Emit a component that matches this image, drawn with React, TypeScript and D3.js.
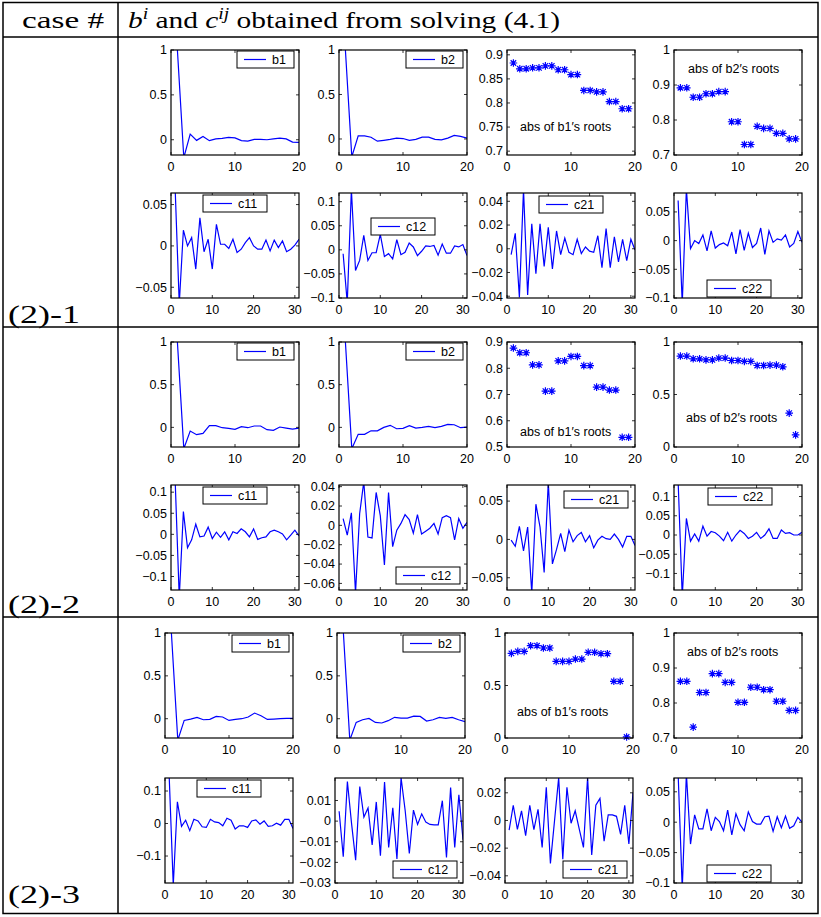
import React from 'react';
import * as d3 from 'd3';

// ---- values (index 1..n) ----
const xTicksB = [0, 10, 20];
const xTicksC = [0, 10, 20, 30];

// case (2)-1
const r1B1 = [1, -0.2, 0.063, -0.007, 0.037, -0.01, 0.01, 0.015, 0.026, 0.02, -0.01, -0.015, 0.004, 0.004, 0, 0.01, 0.018, 0.01, -0.026, -0.03];
const r1B2 = [1, -0.2, 0.035, 0.035, 0.02, -0.025, -0.015, -0.005, 0.01, 0.005, -0.015, -0.005, 0.02, 0.02, -0.005, -0.01, 0.01, 0.04, 0.03, 0.01];
const r1B1Roots = [0.883, 0.871, 0.871, 0.873, 0.873, 0.877, 0.877, 0.869, 0.869, 0.859, 0.859, 0.826, 0.826, 0.823, 0.823, 0.803, 0.803, 0.788, 0.788];
const r1B2Roots = [0.892, 0.892, 0.865, 0.865, 0.875, 0.875, 0.881, 0.881, 0.795, 0.795, 0.73, 0.73, 0.782, 0.776, 0.776, 0.762, 0.762, 0.746, 0.746];
const r1C11 = [0.07, -0.07, 0.019, 0, 0.01, -0.028, 0.034, -0.007, 0.008, -0.028, 0.026, 0.002, 0.002, -0.003, 0.008, -0.008, -0.004, 0.004, 0.01, 0, -0.004, -0.004, 0.007, -0.006, 0.007, -0.002, 0.006, -0.007, -0.004, 0.001, 0.008];
const r1C12 = [-0.008, -0.11, 0.125, -0.043, -0.022, 0.03, -0.022, -0.006, -0.006, 0.032, -0.014, -0.008, -0.019, 0.021, -0.01, -0.005, 0.014, 0.006, -0.012, -0.003, 0.008, 0.007, 0.009, -0.011, 0.012, -0.007, -0.007, 0.008, 0.006, 0.011, -0.012];
const r1C21 = [-0.005, 0.013, -0.041, 0.05, -0.039, 0.021, -0.021, 0.021, -0.015, 0.018, -0.017, 0.015, -0.005, 0.009, -0.003, -0.005, 0.008, -0.004, 0.0015, -0.002, -0.003, 0.011, -0.016, 0.017, -0.016, 0.01, -0.011, 0.008, -0.01, 0.008, -0.001];
const r1C22 = [0.07, -0.11, 0.09, -0.014, 0, -0.005, 0.01, -0.018, 0.017, -0.013, -0.007, -0.004, -0.009, 0.015, -0.023, 0.019, -0.017, 0.013, -0.012, -0.005, 0.022, -0.024, 0.017, -0.003, 0.003, 0.001, 0.01, -0.011, -0.005, 0.016, -0.003];

// case (2)-2
const r2B1 = [1, -0.25, -0.043, -0.086, -0.07, 0.02, 0.02, -0.004, -0.012, -0.024, 0.008, -0.004, 0.016, 0.016, -0.027, -0.035, 0.004, -0.008, -0.02, -0.008];
const r2B2 = [1, -0.25, -0.082, -0.082, -0.04, -0.04, 0, 0.024, -0.016, -0.012, 0.02, -0.008, 0, 0.012, -0.004, 0.012, 0.035, 0.031, -0.004, 0.004];
const r2B1Roots = [0.877, 0.859, 0.859, 0.813, 0.813, 0.713, 0.713, 0.828, 0.828, 0.845, 0.845, 0.81, 0.81, 0.728, 0.728, 0.717, 0.717, 0.537, 0.537];
const r2B2Roots = [0.866, 0.866, 0.84, 0.84, 0.83, 0.83, 0.847, 0.847, 0.824, 0.824, 0.815, 0.815, 0.776, 0.776, 0.78, 0.78, 0.764, 0.323, 0.115];
const r2C11 = [0.13, -0.15, 0.054, -0.032, -0.013, 0.024, -0.006, -0.004, 0.017, -0.01, 0.005, -0.007, 0.006, -0.013, 0.006, 0.002, 0.013, 0.006, -0.006, 0.013, -0.012, -0.008, -0.006, 0.006, 0.01, 0.006, 0.001, -0.013, -0.002, 0.01, -0.004];
const r2C12 = [0.007, -0.01, 0.013, -0.07, 0.012, 0.045, -0.012, -0.013, 0.034, 0.01, -0.041, 0.034, -0.022, -0.005, 0.002, 0.011, 0.006, -0.008, 0.011, -0.009, -0.006, -0.003, 0.002, -0.009, 0.008, 0.01, 0.008, -0.015, 0.007, -0.003, 0.003];
const r2C21 = [-0.001, -0.009, 0.017, -0.015, 0.016, -0.07, 0.046, 0.016, -0.043, 0.075, -0.032, -0.013, 0.008, -0.016, 0.012, -0.003, 0.005, 0.009, -0.003, 0.005, -0.011, -0.001, 0.004, 0.001, 0, 0.007, 0, -0.01, 0.004, 0.004, -0.008];
const r2C22 = [0.14, -0.16, 0.043, -0.016, 0.003, -0.016, 0.023, -0.003, 0.009, 0.006, -0.003, -0.015, 0.007, -0.016, 0, 0.012, 0.004, -0.009, -0.003, 0.007, -0.009, 0, 0.016, -0.009, -0.009, 0.013, 0.004, 0.006, 0, 0, 0.007];

// case (2)-3
const r3B1 = [1, -0.25, -0.02, -0.004, 0.016, -0.012, -0.008, 0.027, 0.02, -0.02, -0.008, 0, 0.02, 0.066, 0.035, -0.008, -0.004, 0, 0.004, 0.004];
const r3B2 = [1, -0.25, -0.043, -0.012, 0.004, -0.043, -0.05, -0.023, 0.016, 0.008, 0.008, 0.031, 0.027, -0.027, -0.012, 0.016, 0.004, 0.016, -0.012, -0.035];
const r3B1Roots = [0.806, 0.825, 0.825, 0.879, 0.879, 0.857, 0.857, 0.73, 0.73, 0.73, 0.752, 0.752, 0.816, 0.816, 0.803, 0.803, 0.54, 0.54, 0.01];
const r3B2Roots = [0.862, 0.862, 0.731, 0.83, 0.83, 0.884, 0.884, 0.859, 0.859, 0.802, 0.802, 0.845, 0.845, 0.838, 0.838, 0.805, 0.805, 0.779, 0.779];
const r3C11 = [0.15, -0.19, 0.067, -0.009, 0.01, -0.022, 0.013, 0.008, -0.01, -0.012, 0.013, 0.005, 0.003, -0.007, 0.016, 0.01, -0.017, -0.007, -0.007, -0.012, 0.008, 0.011, -0.002, 0.008, -0.009, -0.007, 0.001, -0.005, 0.013, 0.013, -0.015];
const r3C12 = [0.0048, -0.0173, 0.0192, -0.001, -0.019, 0.0168, 0.002, 0.0064, -0.0115, 0.0093, -0.0168, 0.0189, -0.0128, 0.0064, -0.0184, 0.021, 0.005, -0.0157, 0.0053, -0.0016, 0.0035, -0.0005, -0.0016, -0.0018, -0.0018, 0.0099, -0.0176, 0.0163, -0.0128, 0.0128, -0.009];
const r3C21 = [-0.007, 0.011, -0.0065, 0.007, -0.011, 0.011, -0.0067, 0.008, -0.0195, 0.024, -0.031, 0, 0.031, -0.028, 0.024, -0.002, 0.007, -0.0065, -0.0195, 0.031, -0.025, 0.011, 0.016, -0.015, 0.004, 0.004, 0.003, -0.01, 0.011, -0.017, 0.02];
const r3C22 = [0.08, -0.11, 0.08, -0.036, 0.012, -0.011, -0.011, 0.022, -0.014, 0.008, 0.001, -0.014, 0.02, -0.021, 0.014, -0.004, -0.014, 0.017, 0.001, -0.003, -0.003, 0.009, 0.01, -0.015, 0.009, -0.009, 0.01, -0.01, -0.006, 0.008, 0];

const caseLabels = ['(2)-1', '(2)-2', '(2)-3'];

type Spec = {
  left: number;
  top: number;
  values: number[];
  kind: 'line' | 'star';
  xMax: number;
  yDomain: [number, number];
  yTicks: number[];
  legend?: { label: string; dx: number; dy: number };
  note?: { text: string; dx: number; dy: number };
};

const b1Note = 'abs of b1\u2032s roots';
const b2Note = 'abs of b2\u2032s roots';

const specs: Spec[] = [
  // row 1
  { left: 171, top: 50, values: r1B1, kind: 'line', xMax: 20, yDomain: [-0.17, 1], yTicks: [0, 0.5, 1], legend: { label: 'b1', dx: 66, dy: 1 } },
  { left: 339, top: 50, values: r1B2, kind: 'line', xMax: 20, yDomain: [-0.18, 1], yTicks: [0, 0.5, 1], legend: { label: 'b2', dx: 67, dy: 1 } },
  { left: 507, top: 50, values: r1B1Roots, kind: 'star', xMax: 20, yDomain: [0.692, 0.91], yTicks: [0.7, 0.75, 0.8, 0.85, 0.9], note: { text: b1Note, dx: 13, dy: 81 } },
  { left: 674, top: 50, values: r1B2Roots, kind: 'star', xMax: 20, yDomain: [0.7, 1], yTicks: [0.7, 0.8, 0.9, 1], note: { text: b2Note, dx: 14, dy: 23 } },
  { left: 171, top: 193, values: r1C11, kind: 'line', xMax: 31, yDomain: [-0.063, 0.064], yTicks: [-0.05, 0, 0.05], legend: { label: 'c11', dx: 32, dy: 2 } },
  { left: 339, top: 193, values: r1C12, kind: 'line', xMax: 31, yDomain: [-0.1, 0.118], yTicks: [-0.1, -0.05, 0, 0.05, 0.1], legend: { label: 'c12', dx: 32, dy: 25 } },
  { left: 507, top: 193, values: r1C21, kind: 'line', xMax: 31, yDomain: [-0.0415, 0.047], yTicks: [-0.04, -0.02, 0, 0.02, 0.04], legend: { label: 'c21', dx: 32, dy: 3 } },
  { left: 674, top: 193, values: r1C22, kind: 'line', xMax: 31, yDomain: [-0.1, 0.083], yTicks: [-0.1, -0.05, 0, 0.05], legend: { label: 'c22', dx: 33, dy: 87 } },
  // row 2
  { left: 171, top: 342, values: r2B1, kind: 'line', xMax: 20, yDomain: [-0.23, 1], yTicks: [0, 0.5, 1], legend: { label: 'b1', dx: 66, dy: 1 } },
  { left: 339, top: 342, values: r2B2, kind: 'line', xMax: 20, yDomain: [-0.23, 1], yTicks: [0, 0.5, 1], legend: { label: 'b2', dx: 67, dy: 1 } },
  { left: 507, top: 342, values: r2B1Roots, kind: 'star', xMax: 20, yDomain: [0.5, 0.9], yTicks: [0.5, 0.6, 0.7, 0.8, 0.9], note: { text: b1Note, dx: 13, dy: 94 } },
  { left: 674, top: 342, values: r2B2Roots, kind: 'star', xMax: 20, yDomain: [0, 1], yTicks: [0, 0.5, 1], note: { text: b2Note, dx: 12, dy: 80 } },
  { left: 171, top: 485, values: r2C11, kind: 'line', xMax: 31, yDomain: [-0.132, 0.117], yTicks: [-0.1, -0.05, 0, 0.05, 0.1], legend: { label: 'c11', dx: 32, dy: 2 } },
  { left: 339, top: 485, values: r2C12, kind: 'line', xMax: 31, yDomain: [-0.0668, 0.0417], yTicks: [-0.06, -0.04, -0.02, 0, 0.02, 0.04], legend: { label: 'c12', dx: 57, dy: 82 } },
  { left: 507, top: 485, values: r2C21, kind: 'line', xMax: 31, yDomain: [-0.066, 0.071], yTicks: [-0.05, 0, 0.05], legend: { label: 'c21', dx: 57, dy: 6 } },
  { left: 674, top: 485, values: r2C22, kind: 'line', xMax: 31, yDomain: [-0.143, 0.13], yTicks: [-0.1, -0.05, 0, 0.05, 0.1], legend: { label: 'c22', dx: 34, dy: 3 } },
  // row 3
  { left: 165, top: 633, values: r3B1, kind: 'line', xMax: 20, yDomain: [-0.225, 1], yTicks: [0, 0.5, 1], legend: { label: 'b1', dx: 67, dy: 2 } },
  { left: 337, top: 633, values: r3B2, kind: 'line', xMax: 20, yDomain: [-0.225, 1], yTicks: [0, 0.5, 1], legend: { label: 'b2', dx: 66, dy: 2 } },
  { left: 505, top: 633, values: r3B1Roots, kind: 'star', xMax: 20, yDomain: [0, 1], yTicks: [0, 0.5, 1], note: { text: b1Note, dx: 12, dy: 83 } },
  { left: 674, top: 633, values: r3B2Roots, kind: 'star', xMax: 20, yDomain: [0.7, 1], yTicks: [0.7, 0.8, 0.9, 1], note: { text: b2Note, dx: 13, dy: 23 } },
  { left: 165, top: 778, values: r3C11, kind: 'line', xMax: 31, yDomain: [-0.183, 0.14], yTicks: [-0.1, 0, 0.1], legend: { label: 'c11', dx: 32, dy: 2 } },
  { left: 335, top: 778, values: r3C12, kind: 'line', xMax: 31, yDomain: [-0.03, 0.0209], yTicks: [-0.03, -0.02, -0.01, 0, 0.01], legend: { label: 'c12', dx: 58, dy: 83 } },
  { left: 505, top: 778, values: r3C21, kind: 'line', xMax: 31, yDomain: [-0.0452, 0.0307], yTicks: [-0.04, -0.02, 0, 0.02], legend: { label: 'c21', dx: 58, dy: 83 } },
  { left: 674, top: 778, values: r3C22, kind: 'line', xMax: 31, yDomain: [-0.1, 0.0727], yTicks: [-0.1, -0.05, 0, 0.05], legend: { label: 'c22', dx: 33, dy: 87 } },
];

const W = 128;
const H = 105;
const BLUE = '#0000ff';
const SANS = '"Liberation Sans", Arial, Helvetica, sans-serif';
const SERIF = '"Liberation Serif", "Times New Roman", serif';
const FS = 12.5;

const fmt = (v: number) => String(+v.toFixed(4)).replace('-', '\u2212');

const star = (r: number) => {
  const k = r * 0.72;
  return `M${-r},0L${r},0M0,${-r}L0,${r}M${-k},${-k}L${k},${k}M${-k},${k}L${k},${-k}`;
};

function Panel({ s, id }: { s: Spec; id: number }) {
  const x = d3.scaleLinear().domain([0, s.xMax]).range([0, W]);
  const y = d3.scaleLinear().domain(s.yDomain).range([H, 0]);
  const pts: [number, number][] = s.values.map((v, i) => [i + 1, v]);
  const line = d3.line<[number, number]>().x(d => x(d[0])).y(d => y(d[1]));
  const xTicks = s.xMax === 20 ? xTicksB : xTicksC;
  const tl = 3;
  const lw = s.legend && s.legend.label.length > 2 ? 64 : 57;

  return (
    <g transform={`translate(${s.left},${s.top})`}>
      <defs>
        <clipPath id={`clip${id}`}>
          <rect x={0} y={0} width={W} height={H} />
        </clipPath>
      </defs>
      <rect x={0} y={0} width={W} height={H} fill="white" />
      {s.kind === 'line' ? (
        <path d={line(pts) || ''} fill="none" stroke={BLUE} strokeWidth={1.2} clipPath={`url(#clip${id})`} />
      ) : (
        pts.map((d, i) => (
          <path key={i} d={star(3.8)} transform={`translate(${x(d[0])},${y(d[1])})`} stroke={BLUE} strokeWidth={1.2} fill="none" />
        ))
      )}
      {/* ticks, inward on all four sides */}
      {s.yTicks.map(t => (
        <g key={'y' + t}>
          <line x1={0} x2={tl} y1={y(t)} y2={y(t)} stroke="black" strokeWidth={0.8} />
          <line x1={W} x2={W - tl} y1={y(t)} y2={y(t)} stroke="black" strokeWidth={0.8} />
          <text x={-4} y={y(t) + 4.3} textAnchor="end" fontSize={FS} fontFamily={SANS} fill="#000">
            {fmt(t)}
          </text>
        </g>
      ))}
      {xTicks.map(t => (
        <g key={'x' + t}>
          <line x1={x(t)} x2={x(t)} y1={H} y2={H - tl} stroke="black" strokeWidth={0.8} />
          <line x1={x(t)} x2={x(t)} y1={0} y2={tl} stroke="black" strokeWidth={0.8} />
          <text x={x(t)} y={H + 16} textAnchor="middle" fontSize={FS} fontFamily={SANS} fill="#000">
            {fmt(t)}
          </text>
        </g>
      ))}
      <rect x={0} y={0} width={W} height={H} fill="none" stroke="black" strokeWidth={1.2} />
      {s.legend && (
        <g transform={`translate(${s.legend.dx},${s.legend.dy})`}>
          <rect x={0} y={0} width={lw} height={17} fill="white" stroke="black" strokeWidth={1} />
          <line x1={7} x2={29} y1={8.5} y2={8.5} stroke={BLUE} strokeWidth={1.2} />
          <text x={35} y={13} fontSize={FS} fontFamily={SANS} fill="#000">
            {s.legend.label}
          </text>
        </g>
      )}
      {s.note && (
        <text x={s.note.dx} y={s.note.dy} fontSize={FS} fontFamily={SANS} fill="#000">
          {s.note.text}
        </text>
      )}
    </g>
  );
}

export default function App() {
  const rowLines = [37, 327, 617];
  const labelBase = [323, 613, 903];
  return (
    <div style={{ position: 'absolute', left: 0, top: 0 }}>
      <svg width={821} height={917} style={{ display: 'block', background: 'white' }}>
        <rect x={0} y={0} width={821} height={917} fill="white" />
        {/* table frame */}
        <rect x={3} y={2.5} width={815} height={911} fill="none" stroke="black" strokeWidth={1.5} />
        <line x1={118} x2={118} y1={2.5} y2={913.5} stroke="black" strokeWidth={1.5} />
        {rowLines.map(yy => (
          <line key={yy} x1={3} x2={818} y1={yy} y2={yy} stroke="black" strokeWidth={1.5} />
        ))}
        <text x={22} y={28} fontSize={24} fontFamily={SERIF} textLength={82} lengthAdjust="spacingAndGlyphs">
          case #
        </text>
        <text x={128} y={28} fontSize={24} fontFamily={SERIF} textLength={432} lengthAdjust="spacingAndGlyphs">
          <tspan fontStyle="italic">b</tspan>
          <tspan fontStyle="italic" fontSize={16} dy={-9}>i</tspan>
          <tspan dy={9}> and </tspan>
          <tspan fontStyle="italic">c</tspan>
          <tspan fontStyle="italic" fontSize={16} dy={-9}>ij</tspan>
          <tspan dy={9}> obtained from solving (4.1)</tspan>
        </text>
        {caseLabels.map((c, i) => (
          <text key={c} x={8} y={labelBase[i]} fontSize={26} fontFamily={SERIF} textLength={72} lengthAdjust="spacingAndGlyphs">
            {c}
          </text>
        ))}
        {specs.map((s, i) => (
          <Panel key={i} s={s} id={i} />
        ))}
      </svg>
    </div>
  );
}
